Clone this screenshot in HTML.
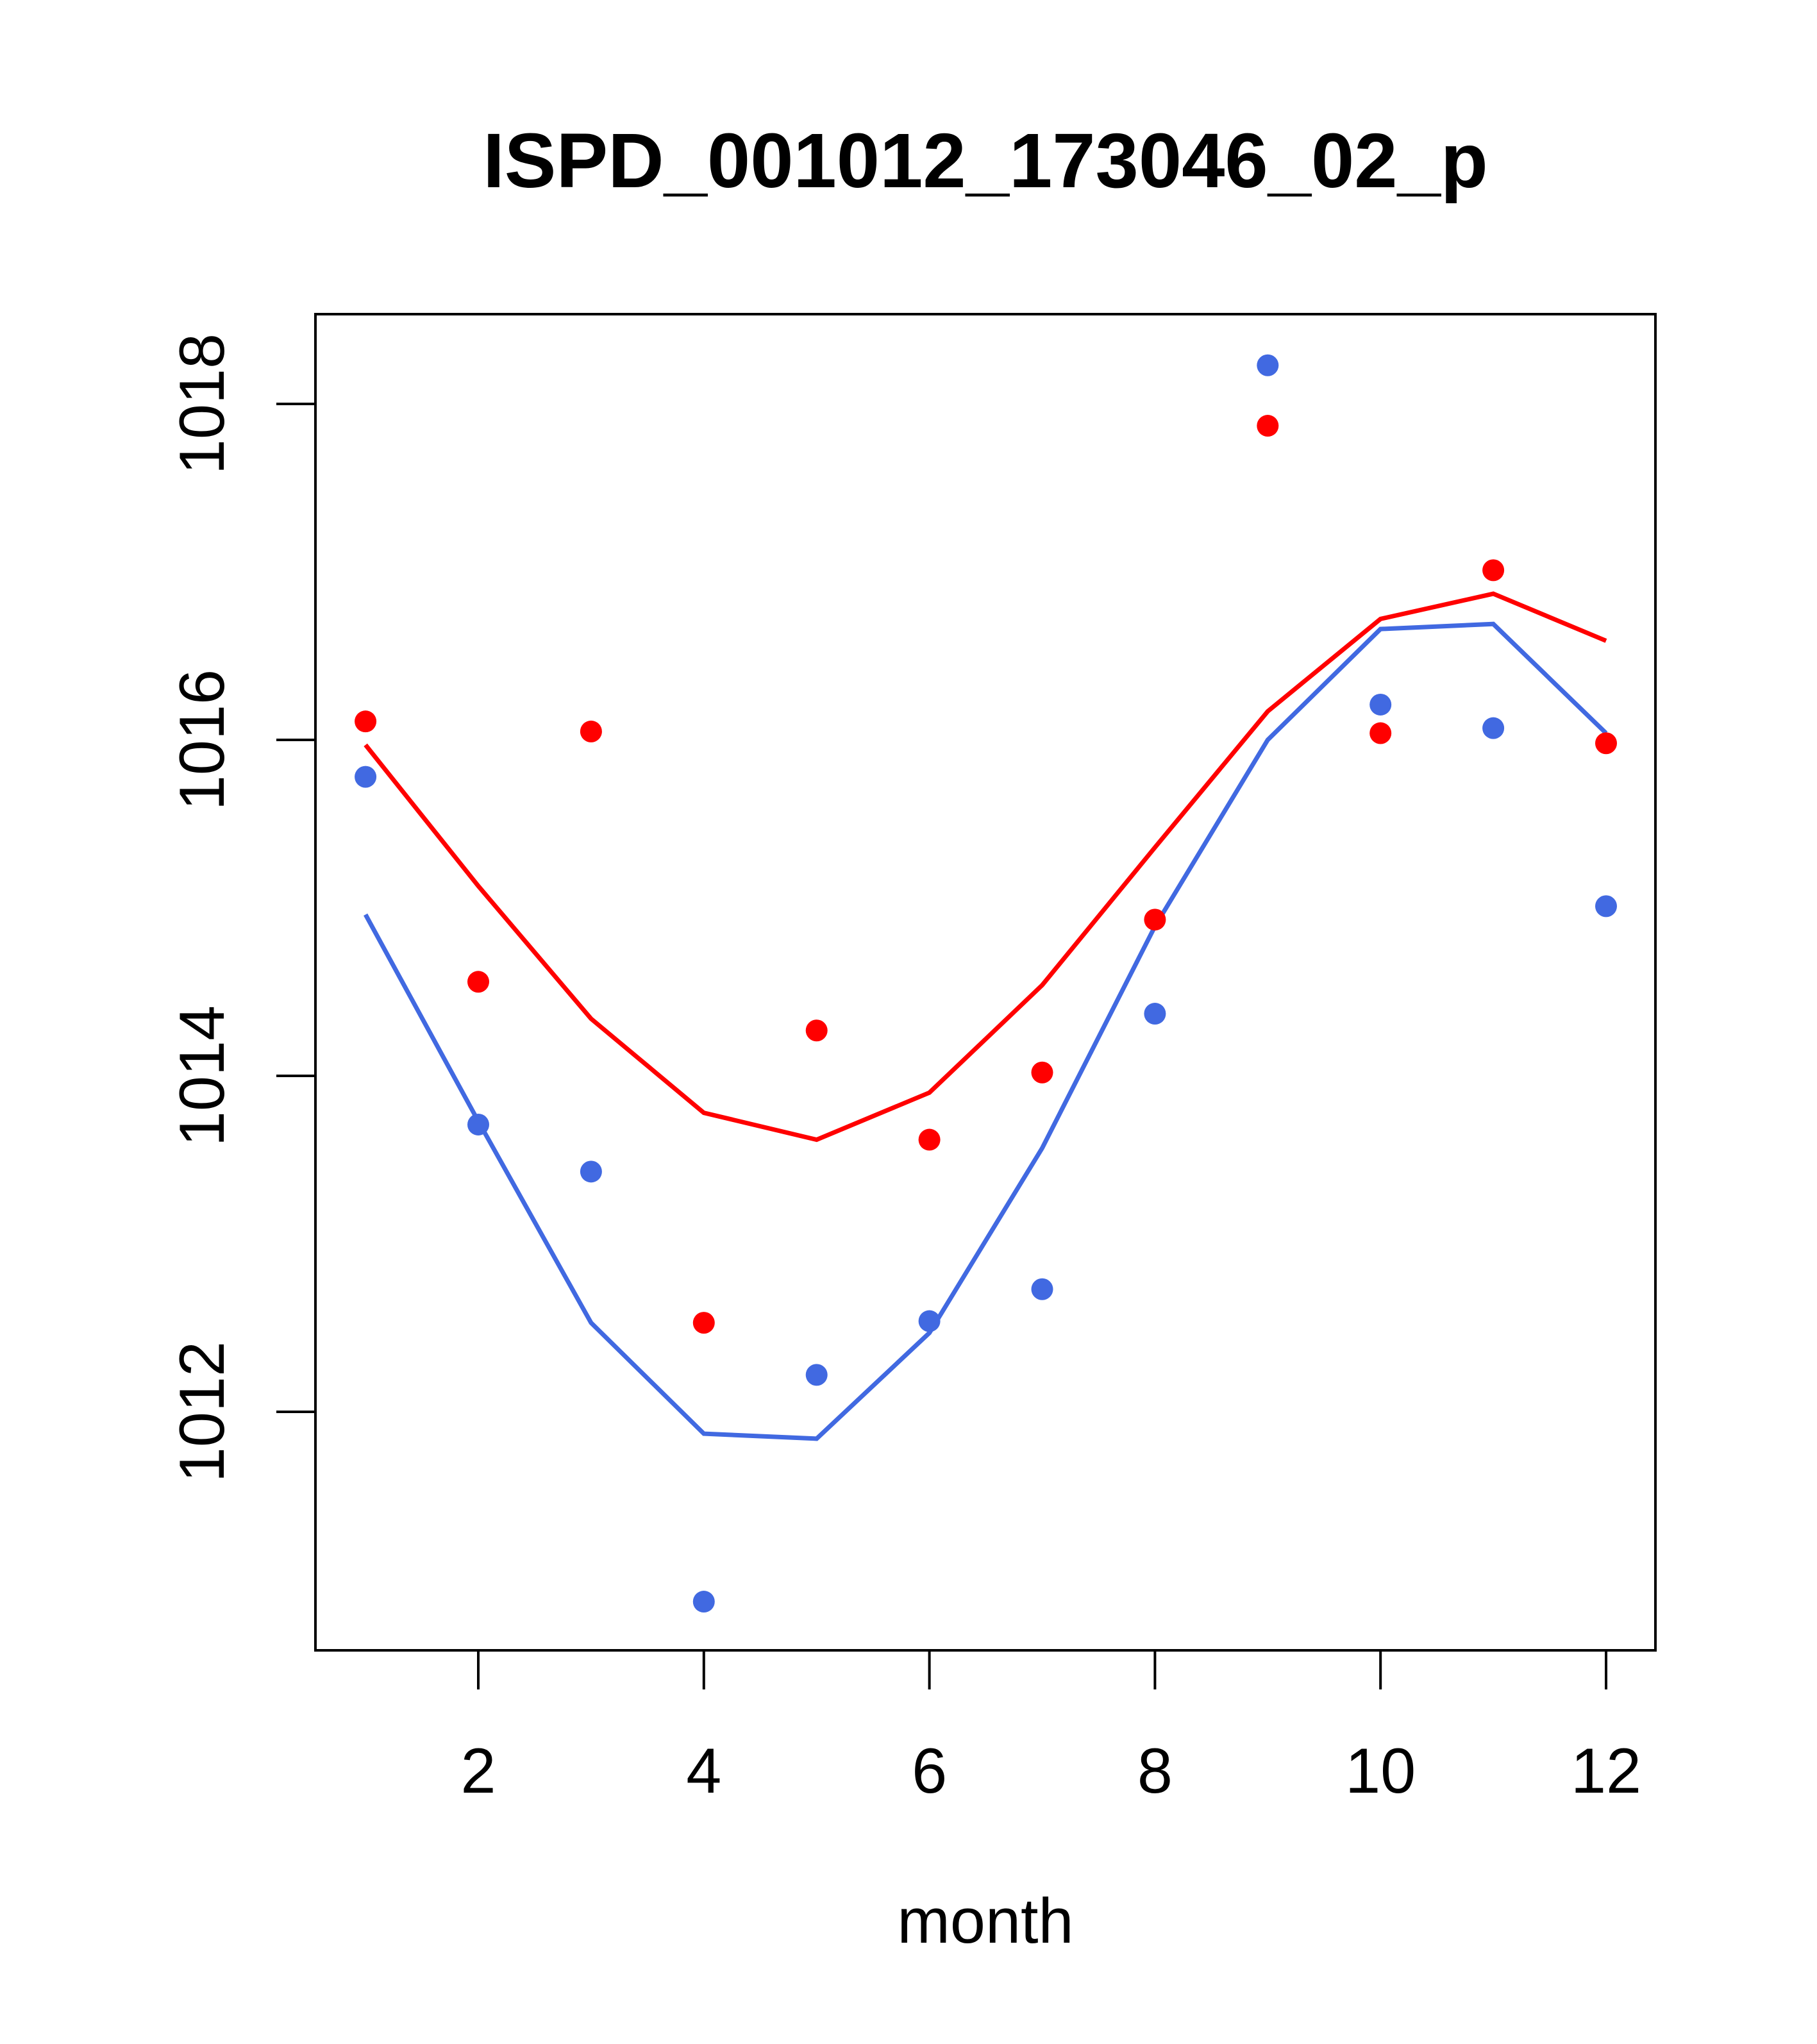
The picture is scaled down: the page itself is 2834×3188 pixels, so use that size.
<!DOCTYPE html>
<html><head><meta charset="utf-8"><style>
html,body{margin:0;padding:0;background:#fff}
svg{display:block}
text{font-family:"Liberation Sans",Arial,sans-serif;fill:#000}
</style></head><body>
<svg id="chart" width="2834" height="3188" viewBox="0 0 2834 3188" xmlns="http://www.w3.org/2000/svg">
<text x="1537" y="292" text-anchor="middle" font-size="121" font-weight="bold">ISPD_001012_173046_02_p</text>
<rect x="492" y="490" width="2090" height="2084" fill="none" stroke="#000" stroke-width="4"/>
<g id="xaxis"></g>
<g id="yaxis"></g>
<text x="1537" y="3030" text-anchor="middle" font-size="99">month</text>
<g id="series"></g>
</svg>
<script>
const months=[1,2,3,4,5,6,7,8,9,10,11,12];
const xTicks=[2,4,6,8,10,12];
const yTicks=[1012,1014,1016,1018];
const redPoints=[1016.11,1014.56,1016.05,1012.53,1014.27,1013.62,1014.02,1014.93,1017.87,1016.04,1017.01,1015.98];
const bluePoints=[1015.78,1013.71,1013.43,1010.87,1012.22,1012.54,1012.73,1014.37,1018.23,1016.21,1016.07,1015.01];
const redLine=[1015.97,1015.13,1014.34,1013.78,1013.62,1013.90,1014.54,1015.36,1016.17,1016.72,1016.87,1016.59];
const blueLine=[1014.96,1013.73,1012.53,1011.87,1011.84,1012.47,1013.57,1014.89,1016.00,1016.66,1016.69,1016.04];

const NS="http://www.w3.org/2000/svg";
const xs=m=>746+(m-2)*175.9;
const ys=v=>2202-(v-1012)*262.0;
function mk(tag,attrs,parent){const e=document.createElementNS(NS,tag);for(const k in attrs)e.setAttribute(k,attrs[k]);parent.appendChild(e);return e;}
const xa=document.getElementById('xaxis'),ya=document.getElementById('yaxis'),sr=document.getElementById('series');
xTicks.forEach(t=>{
 const l=mk('line',{x1:xs(t),x2:xs(t),y1:2574,y2:2635,stroke:'#000','stroke-width':4},xa);
 
 
 const tx=mk('text',{x:xs(t),y:2796,'text-anchor':'middle','font-size':99},xa);tx.textContent=t;
 
 
});
yTicks.forEach(t=>{
 const l=mk('line',{x1:431,x2:492,y1:ys(t),y2:ys(t),stroke:'#000','stroke-width':4},ya);
 
 
 const tx=mk('text',{x:349,y:ys(t),'text-anchor':'middle','font-size':99,transform:`rotate(-90 349 ${ys(t)})`},ya);tx.textContent=t;
 
 
});
function line(vals,col,name){
 const p=mk('polyline',{points:vals.map((v,i)=>xs(months[i])+','+ys(v)).join(' '),fill:'none',stroke:col,'stroke-width':7},sr);
 
 
}
function pts(vals,col,name){
 vals.forEach((v,i)=>{
  const c=mk('circle',{cx:xs(months[i]),cy:ys(v),r:17,fill:col},sr);
  
  
 });
}
line(redLine,'#ff0000','red-line');
line(blueLine,'#4169e1','blue-line');
pts(redPoints,'#ff0000','red-point');
pts(bluePoints,'#4169e1','blue-point');
</script>
</body></html>
